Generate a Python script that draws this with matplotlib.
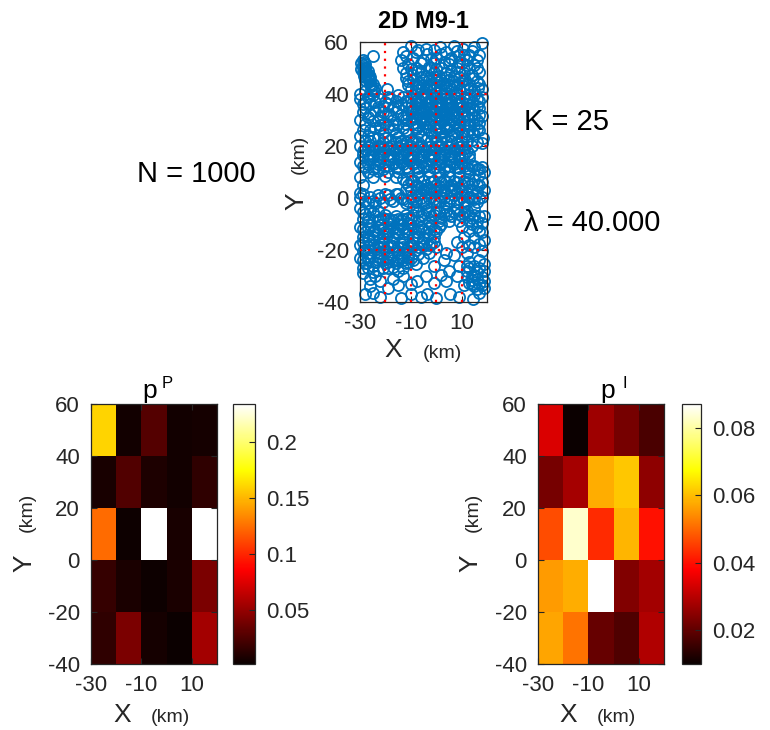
import numpy as np
import matplotlib
matplotlib.use("Agg")
import matplotlib.pyplot as plt

plt.rcParams['font.family'] = ['Liberation Sans', 'DejaVu Sans']
plt.rcParams['axes.unicode_minus'] = False

# event epicentres (km), rough catalogue for the M9-1 scenario
quake_xy = [
    # top rows
    (-25, 54.5), (-13, 56), (-10, 58.5), (-7, 57), (-3.5, 55.5), (-1, 57), (1.5, 58), (4, 56),
    (7, 58.5), (10.5, 57.5), (13, 55), (15, 58), (18, 59.5), (-14, 53), (-9, 54), (-5, 53),
    (0, 54), (6, 54), (9, 55), (12, 53), (16, 53),
    (-12, 54.5), (-8, 56), (-4, 57.5), (2, 55.5), (5, 53), (8, 56.5), (11, 55), (14, 56.5),
    (17, 55), (-2, 53.5), (3, 52.5), (9, 52.5), (12, 51), (16, 50), (-7, 49), (-2, 50), (6, 49),
    (9, 48.5), (-10, 49.5), (0, 49.5),
    # north-west cluster
    (-29.5, 52), (-28.5, 52.5), (-29, 50.5), (-28, 50), (-29, 48.5), (-27.5, 48.5), (-28.5, 47),
    (-27, 47), (-26.5, 45.5), (-27.5, 45), (-26, 44), (-25.5, 43), (-25, 42), (-28, 49.5),
    (-27, 49), (-26, 46.5), (-24.5, 41), (-28, 45.5),
    (-29, 51), (-28, 51.5), (-28.5, 49), (-27.5, 47.5), (-27, 46), (-26, 45), (-25, 44),
    (-24, 42.5), (-29.5, 49.5), (-28, 46.5), (-26.5, 47.5), (-25.5, 41.5), (-29, 53),
    (-13, 50), (-11, 51.5), (-8, 50), (-6, 52), (-3, 50.5), (-1, 52), (2, 50), (5, 51.5), (8, 50),
    (10, 52), (13, 50), (15, 51), (17, 48.5), (-12, 48), (-9, 47.5), (-6, 48.5), (-4, 47),
    (-1, 48.5), (1, 47), (4, 48), (7, 47), (11, 48), (14, 47.5),
    (-11, 45), (-8, 44), (-5, 45.5), (-2, 44), (0, 45.5), (3, 44), (5, 45.5), (8, 44), (10, 45),
    (13, 44), (16, 45), (18, 42), (-19.5, 42), (-10, 42), (-7, 41.5), (-4, 42.5), (-1, 41.5),
    (2, 42), (6, 42), (9, 41.5), (12, 42), (15, 41.5),
    (-12, 46), (-9, 45.5), (-6, 46.5), (-3, 45.5), (-1, 46.5), (2, 45.5), (4, 46.5), (6.5, 45),
    (9, 46.5), (11.5, 45.5), (14.5, 46), (17, 44), (-11, 43.5), (-8, 42.5), (-5, 43.5),
    (-2.5, 42.5), (0.5, 43.5), (4, 43), (7, 43.5), (10.5, 43), (13.5, 42.5), (16.5, 42.5),
    (-28, 41), (-30, 40),
    (-7, 43), (-3, 43.5), (1, 44.5), (5, 43.5), (-8, 40.5), (-4, 40.5), (0, 40.5), (4, 40.5),
    (8, 40.5),
    (-30, 38), (-28, 37), (-25, 39.5), (-22, 38), (-19, 39), (-16, 37.5), (-13, 39), (-11, 37),
    (-9, 39.5), (-7, 38), (-5, 39.5), (-3, 37.5), (-1, 39), (1, 37.5), (3, 39.5), (5, 38),
    (7, 39.5), (9, 37.5), (11, 39), (13, 38), (15, 39.5), (17, 37.5), (-26, 36), (-21, 35.5),
    (-17, 35), (-14, 36), (-10, 35), (-8, 36), (-6, 35), (-4, 36), (-2, 35), (0, 36), (2, 35),
    (4, 36), (6, 35), (8, 36), (10, 35), (12, 36), (14, 35), (16, 35.5),
    (-29, 36), (-27, 39), (-24, 37), (-20, 37), (-18, 38.5), (-15, 39.5), (-12, 37.5),
    (-10, 38.5), (-8, 37.5), (-6, 37), (-4, 38.5), (-2, 37), (0, 38.5), (2, 37), (4, 38.5),
    (6, 37), (8, 38.5), (10, 37), (12, 38.5), (14, 37), (16, 38), (18, 39), (-28, 34.5),
    (-23, 35), (-19, 36), (-15, 34.5), (-12, 35), (-9, 34), (-7, 34.5), (-5, 34), (-3, 34),
    (-1, 34), (1, 34.5), (3, 34), (5, 34.5), (7, 34), (9, 34.5), (11, 34), (13, 34.5), (15, 34),
    (17, 34.5),
    (-6, 39), (-2, 38.5), (2, 38.5), (6, 38.5), (-7, 36.5), (-3, 36), (1, 36), (5, 36.5), (9, 36),
    (-8, 33), (-4, 33), (0, 33), (4, 33), (8, 33),
    (-29, 33), (-27, 31), (-24, 33.5), (-22, 31), (-19, 32.5), (-17, 30), (-14, 32), (-12, 30),
    (-10, 33), (-8, 31), (-6, 33), (-4, 30.5), (-2, 32.5), (0, 31), (2, 33), (4, 30.5),
    (6, 32.5), (8, 31), (10, 33), (12, 31), (14, 32.5), (16, 30), (18, 31.5), (-25, 29.5),
    (-20, 29), (-15, 28.5), (-9, 29), (-5, 28.5), (1, 29), (7, 29), (11, 28.5), (15, 28),
    (-30, 30), (-28, 28.5), (-26, 32.5), (-23, 30), (-21, 33), (-18, 31.5), (-16, 33), (-13, 31),
    (-11, 32), (-9, 30.5), (-7, 32), (-5, 31), (-3, 31.5), (-1, 30), (1, 32), (3, 31.5), (5, 31),
    (7, 32), (9, 30), (11, 31.5), (13, 30), (15, 31), (17, 32), (-22, 28), (-17, 28), (-12, 28.5),
    (-7, 28), (-3, 28.5), (3, 28), (5, 28.5), (9, 28), (13, 28.5), (17, 29),
    (-6, 30), (-2, 30), (2, 30), (6, 30), (-8, 27.5), (-4, 27.5), (0, 27.5), (4, 27.5), (8, 27.5),
    (-29, 26), (-27, 24), (-24, 27), (-21, 25), (-19, 27.5), (-16, 25), (-13, 27), (-11, 24.5),
    (-8, 26.5), (-6, 24), (-3, 26), (-1, 24), (1, 26.5), (3, 24), (5, 26), (7, 24.5), (9, 26.5),
    (11, 24), (13, 26), (15, 24.5), (17, 26), (18.5, 23), (-28, 22), (-23, 23), (-18, 22.5),
    (-14, 22), (-9, 22), (-4, 22.5), (0, 22), (4, 22), (8, 21.5), (12, 22), (16, 21.5),
    (-30, 24), (-26, 26), (-25, 23.5), (-22, 26.5), (-20, 23), (-17, 26.5), (-15, 23.5),
    (-12, 26), (-10, 22.5), (-7, 25), (-5, 26.5), (-2, 25), (0, 26), (2, 25), (4, 26.5), (6, 24),
    (8, 25), (10, 25.5), (12, 24.5), (14, 25.5), (16, 26.5), (-26, 22), (-21, 21.5), (-16, 21.5),
    (-12, 21.5), (-7, 21.5), (-2, 22), (2, 21.5), (6, 22), (10, 22), (14, 22.5), (18, 21),
    # central band
    (-30, 20), (-28, 19), (-26, 20.5), (-24, 18.5), (-22, 20), (-20, 18), (-18, 20), (-16, 18.5),
    (-14, 20.5), (-12, 18), (-10, 20), (-8, 18.5), (-6, 20), (-4, 18), (-2, 20), (0, 18.5),
    (2, 20), (4, 18), (6, 20), (8, 18.5), (10, 20), (12, 18), (14, 20), (-29, 16.5), (-25, 16),
    (-21, 16.5), (-17, 16), (-13, 16.5), (-9, 16), (-5, 16.5), (-1, 16), (3, 16.5), (7, 16),
    (11, 16.5),
    (-29, 18), (-27, 17), (-25, 18.5), (-23, 17), (-21, 19), (-19, 17), (-17, 18.5), (-15, 17),
    (-13, 19), (-11, 17), (-9, 19), (-7, 17), (-5, 19), (-3, 17), (-1, 19), (1, 17), (3, 19),
    (5, 17), (7, 19), (9, 17), (11, 19), (13, 17), (-27, 15), (-23, 15), (-19, 15), (-15, 15),
    (-11, 15), (-7, 15), (-3, 15), (1, 15), (5, 15), (9, 15), (13, 15.5),
    (-27, 19.5), (-23, 19.5), (-19, 19.5), (-15, 19.5), (-11, 19.5), (-7, 19.5), (-3, 19.5),
    (1, 19.5), (5, 19.5), (9, 19.5), (-26, 16), (-22, 16), (-18, 16), (-14, 16), (-10, 16),
    (-6, 16), (-2, 16), (2, 16), (6, 16), (10, 16),
    (-30, 14), (-28, 12), (-26, 14.5), (-24, 12), (-22, 14), (-20, 12.5), (-18, 14.5), (-16, 12),
    (-14, 14), (-12, 12), (-10, 14.5), (-8, 12), (-6, 14), (-4, 12.5), (-2, 14.5), (0, 12),
    (2, 14), (4, 12.5), (6, 14), (8, 12), (10, 13.5), (12, 11.5), (14, 12.5), (16, 11), (18, 12),
    (-27, 10), (-23, 10.5), (-19, 10), (-15, 10), (-11, 10.5), (-7, 10), (-3, 10.5), (1, 10),
    (5, 10.5), (9, 10), (13, 9.5), (17, 9),
    (-29, 12.5), (-27, 13), (-25, 11), (-23, 13), (-21, 11), (-19, 12.5), (-17, 13), (-15, 11.5),
    (-13, 13), (-11, 11.5), (-9, 13), (-7, 11.5), (-5, 12.5), (-3, 13), (-1, 11.5), (1, 13),
    (3, 11), (5, 12.5), (7, 13), (9, 11.5), (11, 12.5), (13, 11), (15, 12.5), (17, 11), (19, 10),
    (-30, 8), (-29, 5), (-30, 2), (-13, 7.5), (-11, 5), (-9, 7), (-7, 4.5), (-5, 6.5), (-3, 4),
    (-1, 6.5), (1, 4.5), (3, 7), (5, 4.5), (7, 6.5), (9, 4), (11, 6.5), (13, 4.5), (15, 7),
    (17, 5), (19, 3), (18, 6), (-12, 3), (-8, 2.5), (-4, 2.5), (0, 2.5), (4, 2), (8, 2.5),
    (12, 2), (16, 2.5), (-16, 8), (-20, 8.5), (-25, 8),
    (-12, 6), (-10, 6.5), (-8, 5), (-6, 4), (-4, 5), (-2, 6), (0, 5), (2, 6), (4, 6), (6, 5),
    (8, 6), (10, 5), (12, 6), (14, 5.5), (16, 5), (-10, 3), (-6, 2), (-2, 3), (2, 3), (6, 3),
    (10, 3), (14, 3),
    (-7, 8), (-3, 8), (1, 8), (5, 8), (9, 8), (-5, 3), (-1, 3), (3, 3), (7, 3.5),
    (-30, 0), (-28, -1), (-26, 0.5), (-24, -2), (-22, 0), (-18, -0.5), (-14, 0), (-12, -2),
    (-10, 0.5), (-8, -1.5), (-6, 0), (-4, -2), (-2, 0.5), (0, -1.5), (2, 0.5), (4, -2), (6, 0),
    (8, -1.5), (10, 0.5), (12, -1.5), (14, 0), (16, -1.5), (18, 0.5), (-16, 1.5), (-20, 1.5),
    (-29, 1.5), (-27, -2), (-25, -1), (-23, 1), (-21, -1.5), (-19, 1), (-17, -1), (-15, 1.5),
    (-13, -0.5), (-11, -1), (-9, -0.5), (-7, 1), (-5, -1), (-3, 0), (-1, -0.5), (1, -1), (3, 0),
    (5, -1), (7, 1), (9, -0.5), (11, -1), (13, 0.5), (15, -0.5), (17, 0),
    (-30, -4), (-28, -6), (-26, -4.5), (-24, -7), (-22, -8), (-20, -6.5), (-18, -8.5), (-16, -7),
    (-14, -8.5), (-12, -6.5), (-10, -8), (-8, -5), (-6, -7), (-4, -4.5), (-2, -7), (0, -5),
    (2, -7.5), (4, -5), (6, -7), (8, -4.5), (10, -7), (12, -5), (14, -7.5), (16, -9), (18, -9.5),
    (19, -7), (-29, -8), (-9, -3.5), (3, -3.5), (11, -3.5), (15, -4),
    (-29, -5.5), (-27, -7.5), (-25, -5.5), (-23, -8.5), (-21, -7.5), (-19, -8), (-17, -8.5),
    (-15, -8), (-13, -8), (-11, -7.5), (-9, -6.5), (-7, -5.5), (-5, -6.5), (-3, -5.5),
    (-1, -6.5), (1, -5.5), (3, -6.5), (5, -6), (7, -5.5), (9, -6), (11, -6), (13, -6.5),
    (15, -6.5), (17, -7),
    (-27, -9), (-23, -5), (-19, -9.5), (-15, -10), (-11, -9.5), (-7, -9), (-3, -9), (1, -9),
    (5, -9), (9, -9), (13, -9),
    # southern part
    (-30, -11), (-28, -13), (-26, -10.5), (-24, -12.5), (-22, -10.5), (-20, -13), (-18, -11),
    (-16, -13), (-14, -10.5), (-12, -12.5), (-10, -10.5), (-8, -13), (-6, -11), (-4, -13),
    (-2, -10.5), (0, -12.5), (2, -10), (10, -11), (13, -12.5), (16, -11), (18, -13),
    (-29, -15), (-25, -15), (-21, -15.5), (-17, -15), (-13, -15.5), (-9, -15), (-5, -15.5),
    (-1, -15), (11, -15), (15, -15.5), (19, -16), (8, -17),
    (-29, -12), (-27, -11.5), (-25, -12.5), (-23, -11), (-21, -12), (-19, -12.5), (-17, -11.5),
    (-15, -12), (-13, -11.5), (-11, -12), (-9, -11.5), (-7, -12), (-5, -12), (-3, -11.5),
    (-1, -12), (1, -11), (14, -10), (17, -12.5), (-27, -14.5), (-23, -14), (-19, -14),
    (-15, -14), (-11, -14), (-7, -14.5), (-3, -14),
    (-25, -16), (-21, -17), (-17, -17), (-13, -17), (-9, -17), (-5, -17), (-27, -16),
    (-30, -18), (-28, -20), (-26, -17.5), (-24, -19.5), (-22, -17.5), (-20, -20), (-18, -18),
    (-16, -20), (-14, -17.5), (-12, -20), (-10, -18), (-8, -20), (-6, -17.5), (-4, -19.5),
    (-2, -17.5), (0, -19), (10, -19), (12, -21), (15, -19), (18, -20.5), (4, -21),
    (-29, -17), (-27, -19), (-25, -18), (-23, -18.5), (-21, -19), (-19, -19), (-17, -18.5),
    (-15, -19), (-13, -19), (-11, -19), (-9, -18.5), (-7, -19), (-5, -18.5), (-3, -18),
    (-1, -17), (-27, -21), (-23, -21), (-19, -21.5), (-15, -21), (-11, -21.5), (-7, -21.5),
    (-3, -21), (17, -17.5), (13, -18), (-29, -20.5),
    (-30, -23), (-28, -25), (-26, -22.5), (-24, -24.5), (-22, -22.5), (-20, -25), (-18, -23),
    (-16, -25), (-14, -22.5), (-12, -25), (-10, -23), (-8, -25.5), (-27, -27), (-23, -27.5),
    (-19, -27), (-15, -28), (-5, -23), (-1, -26), (3, -24), (7, -22), (9, -26), (13, -24.5),
    (15, -26), (17, -24), (19, -25.5), (5, -28),
    (-29, -24), (-27, -24), (-25, -26), (-23, -24), (-21, -24), (-19, -24.5), (-17, -24),
    (-15, -24), (-13, -24), (-11, -24.5), (-9, -24), (-29, -27), (-25, -28.5), (-21, -27),
    (-17, -26.5), (-13, -27),
    (-27, -22.5), (-23, -22.5), (-19, -22.5), (-15, -22.5), (-11, -22.5),
    (-29, -29), (-26, -31), (-24, -30), (-22, -32), (-17, -31), (-13, -30), (-10, -33),
    (-7.5, -32), (-4, -30), (-1, -32.5), (2, -29.5), (4, -32), (8, -30), (12, -28), (14, -30),
    (16, -28.5), (18, -30.5), (13, -32.5), (15, -34), (17, -33), (19, -32), (11, -33.5),
    (-26, -34), (-19, -34.5), (-15, -33.5),
    (13, -27), (15, -29.5), (17, -27), (19, -28), (12, -30.5), (14, -31.5), (16, -31),
    (18, -33.5), (14, -33), (16, -35), (19, -34.5), (12, -26),
    (-28, -37), (-25, -36.5), (-22, -38), (-14, -38.5), (-10, -37), (-6, -38), (-3.6, -37),
    (0, -38.5), (5.4, -37), (9, -38), (14.5, -39), (17, -36.5),
]

x_edges = [-30, -20, -10, 0, 10, 20]
y_edges = [-40, -20, 0, 20, 40, 60]
grid_x = [-20, -10, 0, 10]
grid_y = [-20, 0, 20, 40]

# cell probabilities, rows listed north (top) to south
p_P = [
    [0.160, 0.005, 0.028, 0.005, 0.006],
    [0.007, 0.027, 0.009, 0.005, 0.015],
    [0.124, 0.003, 0.234, 0.007, 0.234],
    [0.017, 0.008, 0.003, 0.008, 0.041],
    [0.015, 0.041, 0.006, 0.002, 0.055],
]
p_I = [
    [0.034, 0.010, 0.027, 0.0225, 0.0174],
    [0.0225, 0.028, 0.058, 0.061, 0.0253],
    [0.0467, 0.0828, 0.043, 0.059, 0.040],
    [0.056, 0.058, 0.087, 0.0236, 0.0275],
    [0.057, 0.0513, 0.0207, 0.018, 0.029],
]
cbar_ticks_P = [0.05, 0.1, 0.15, 0.2]
cbar_labels_P = ['0.05', '0.1', '0.15', '0.2']
cbar_ticks_I = [0.02, 0.04, 0.06, 0.08]
cbar_labels_I = ['0.02', '0.04', '0.06', '0.08']

W, H = 770, 730
dark = '#262626'
fig = plt.figure(figsize=(W / 100, H / 100), dpi=100)


def box(l, t, r, b):
    return [l / W, 1 - b / H, (r - l) / W, (b - t) / H]


def ftext(px, py, s, **kw):
    kw.setdefault('color', dark)
    return fig.text(px / W, 1 - py / H, s, **kw)


def style_axes(ax):
    ax.tick_params(direction='in', top=True, right=True, length=4, width=0.8,
                   labelsize=16, colors=dark, pad=8)
    for sp in ax.spines.values():
        sp.set_color(dark)
        sp.set_linewidth(0.9)
    ax.set_xticks([-30, -10, 10])
    ax.set_yticks([-40, -20, 0, 20, 40, 60])
    ax.set_xlim(-30, 20)
    ax.set_ylim(-40, 60)


# --- epicentre map ---
ax0 = fig.add_axes(box(360, 42, 487, 302))
xs = [p[0] for p in quake_xy]
ys = [p[1] for p in quake_xy]
ax0.plot(xs, ys, 'o', mfc='none', mec='#0072BD', ms=8, mew=1.3, clip_on=False, zorder=2)
for gx in grid_x:
    ax0.axvline(gx, color='red', ls=(0, (1, 2.5)), lw=1.6, zorder=3)
for gy in grid_y:
    ax0.axhline(gy, color='red', ls=(0, (1, 2.5)), lw=1.6, zorder=3)
style_axes(ax0)
ftext(423, 21, '2D M9-1', fontsize=17, fontweight='bold', ha='center', va='center', color='black')
ftext(393, 350, 'X', fontsize=19, ha='center', va='center')
ftext(442, 354, '(km)', fontsize=14, ha='center', va='center')
ftext(296, 201, 'Y', fontsize=19, ha='center', va='center', rotation=90)
ftext(299, 154, '(km)', fontsize=14, ha='center', va='center', rotation=90)

ftext(196, 174, 'N = 1000', fontsize=21, ha='center', va='center', color='black')
ftext(524, 122, 'K = 25', fontsize=21, ha='left', va='center', color='black')
ftext(524, 223, 'λ = 40.000', fontsize=21, ha='left', va='center', color='black')


# --- probability maps ---
def prob_map(grid, ax_box, cb_box, ticks, labels, sup, title_x, xlab_x, ylab_x):
    ax = fig.add_axes(box(*ax_box))
    vals = np.array(grid)[::-1]
    mesh = ax.pcolormesh(x_edges, y_edges, vals, cmap='hot',
                         vmin=vals.min(), vmax=vals.max())
    style_axes(ax)
    cax = fig.add_axes(box(*cb_box))
    cb = fig.colorbar(mesh, cax=cax, ticks=ticks)
    cb.ax.set_yticklabels(labels)
    cb.ax.tick_params(direction='in', length=4, width=0.8, labelsize=16, colors=dark, pad=8)
    cb.outline.set_edgecolor(dark)
    cb.outline.set_linewidth(0.9)
    ftext(title_x, 391, 'p', fontsize=19, ha='center', va='center', color='black')
    ftext(title_x + 17, 383, sup, fontsize=12, ha='center', va='center', color='black')
    ftext(xlab_x, 715, 'X', fontsize=19, ha='center', va='center')
    ftext(xlab_x + 48, 718, '(km)', fontsize=14, ha='center', va='center')
    ftext(ylab_x, 563, 'Y', fontsize=19, ha='center', va='center', rotation=90)
    ftext(ylab_x + 3, 512, '(km)', fontsize=14, ha='center', va='center', rotation=90)


prob_map(p_P, (91, 404, 217, 664), (233, 404, 255, 664), cbar_ticks_P, cbar_labels_P,
         'P', 150, 122, 24)
prob_map(p_I, (538, 404, 664, 664), (682, 404, 701, 664), cbar_ticks_I, cbar_labels_I,
         'I', 608, 568, 470)

fig.savefig('out.png', dpi=100)
